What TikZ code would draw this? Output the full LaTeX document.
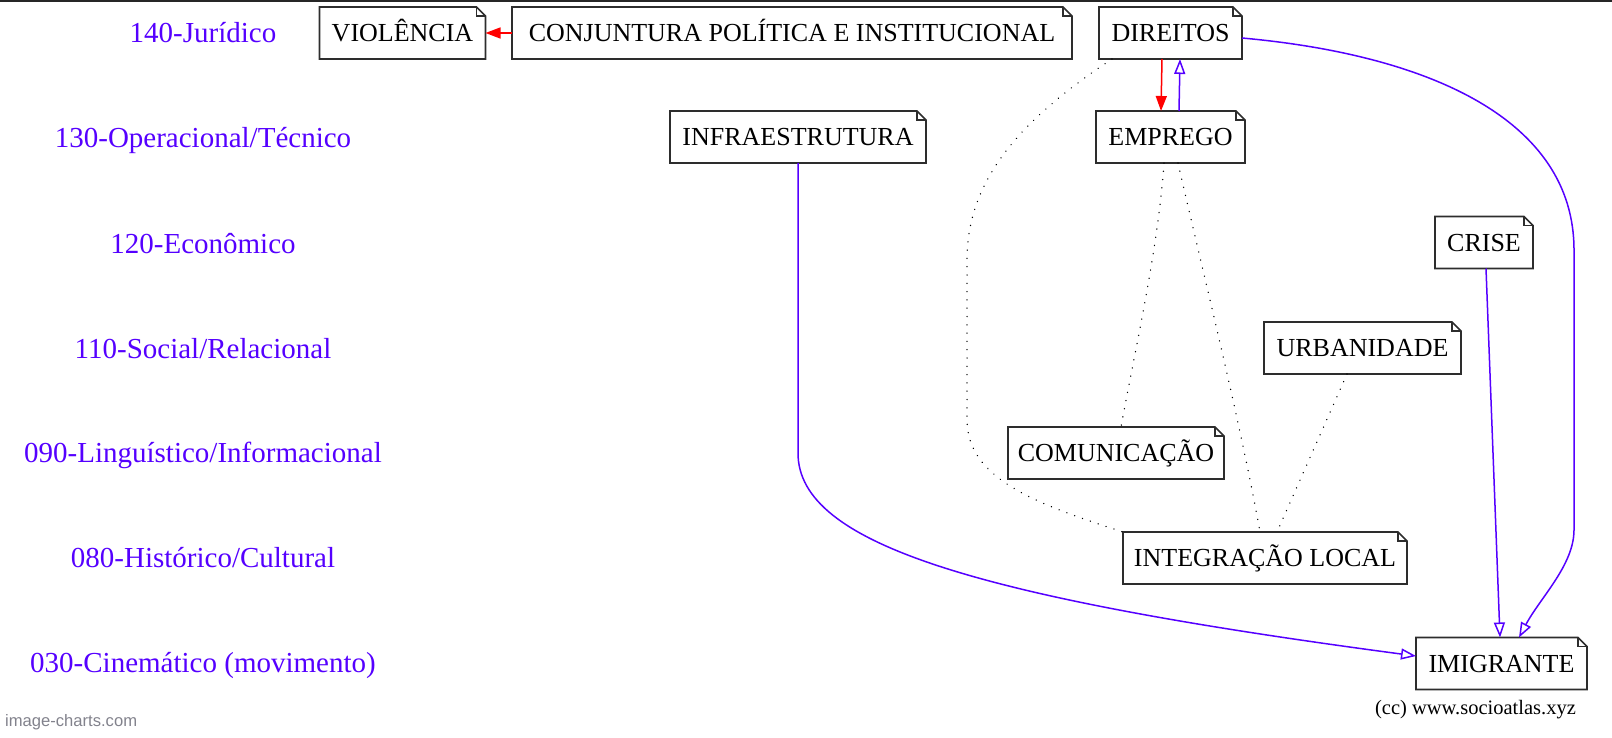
\documentclass[tikz,border=0pt]{standalone}
\usepackage{fontspec}
\setmainfont{Liberation Serif}
\newfontfamily\sansf{Liberation Sans}
\usetikzlibrary{arrows.meta}
\definecolor{purp}{RGB}{85,0,255}
\definecolor{boxgray}{RGB}{45,45,45}
\definecolor{footgray}{RGB}{130,130,140}
\begin{document}
\begin{tikzpicture}[x=1pt,y=-1pt,
 notebox/.style={draw=none, outer sep=0pt, inner sep=0pt, minimum height=52pt,
   font=\fontsize{26}{30}\selectfont, text height=17.2pt, text depth=0pt},
 boxline/.style={draw=boxgray, line width=1.6pt, line join=miter},
 lab/.style={text=purp, font=\fontsize{29}{34}\selectfont, text height=19.4pt, text depth=0pt, inner sep=0pt},
 blueedge/.style={draw=purp, line width=1.5pt, -{Triangle[open,length=15pt,width=11pt]}},
 rededge/.style={draw=red, fill=red, line width=1.5pt, -{Triangle[length=15pt,width=11pt]}},
 dotedge/.style={draw=black, line width=1.4pt, line cap=round, dash pattern=on 0.1pt off 8.2pt}
]
\useasboundingbox (0,0) rectangle (1612,738);
\draw[line width=2pt, draw=black!85] (0,1) -- (1612,1);

% left level labels
\node[lab] (l140) at (203,33) {140-Jurídico};
\node[lab] (l130) at (203,138) {130-Operacional/Técnico};
\node[lab] (l120) at (203,243.5) {120-Econômico};
\node[lab] (l110) at (203,348.5) {110-Social/Relacional};
\node[lab] (l090) at (203,452.5) {090-Linguístico/Informacional};
\node[lab] (l080) at (203,558) {080-Histórico/Cultural};
\node[lab] (l030) at (203,663) {030-Cinemático (movimento)};

% note nodes
\node[notebox, minimum width=166pt] (viol) at (402.5,33) {VIOLÊNCIA};
\node[notebox, minimum width=560pt] (conj) at (792,33) {CONJUNTURA POLÍTICA E INSTITUCIONAL};
\node[notebox, minimum width=143pt] (dir) at (1170.5,33) {DIREITOS};
\node[notebox, minimum width=256pt] (infra) at (798,137) {INFRAESTRUTURA};
\node[notebox, minimum width=149pt] (emp) at (1170.5,137) {EMPREGO};
\node[notebox, minimum width=98pt] (crise) at (1484,242.5) {CRISE};
\node[notebox, minimum width=197pt] (urb) at (1362.5,348) {URBANIDADE};
\node[notebox, minimum width=216pt] (com) at (1116,453) {COMUNICAÇÃO};
\node[notebox, minimum width=284pt] (integ) at (1265,558) {INTEGRAÇÃO LOCAL};
\node[notebox, minimum width=171pt] (imig) at (1501.5,663.5) {IMIGRANTE};

\foreach \n in {viol,conj,dir,infra,emp,crise,urb,com,integ,imig}{
  \draw[boxline] (\n.north west) -- ([xshift=-9pt]\n.north east) -- ([yshift=-9pt]\n.north east)
    -- (\n.south east) -- (\n.south west) -- cycle;
  \draw[boxline] ([xshift=-9pt]\n.north east) |- ([yshift=-9pt]\n.north east);
}

% red edges
\draw[rededge] (conj.west) -- (viol.east);
\draw[rededge] ([xshift=-8.5pt]dir.south) -- ([xshift=-9.5pt]emp.north);

% blue edges
\draw[blueedge] ([xshift=8.5pt]emp.north) -- ([xshift=9.5pt]dir.south);
\draw[blueedge] (infra.south) -- (798,453) .. controls (798,545) and (980,598) .. ([yshift=7.5pt]imig.west);
\draw[blueedge] ([yshift=-5pt]dir.east) .. controls (1430,55) and (1574,120) .. (1574,250)
   -- (1574,530) .. controls (1574,565) and (1540,598) .. ([xshift=17.5pt]imig.north);
\draw[blueedge] ([xshift=2pt]crise.south) -- ([xshift=-1.5pt]imig.north);

% dotted edges
\draw[dotedge] ([xshift=13pt]dir.south west) .. controls (1020,120) and (967,180) .. (967,260)
   -- (967,420) .. controls (967,480) and (1040,505) .. (integ.north west);
\draw[dotedge] ([xshift=-6.5pt]emp.south) .. controls (1158,250) and (1135,350) .. ([xshift=5pt]com.north);
\draw[dotedge] ([xshift=7.5pt]emp.south) .. controls (1200,260) and (1240,420) .. ([xshift=-5pt]integ.north);
\draw[dotedge] ([xshift=-15.5pt]urb.south) -- ([xshift=12pt]integ.north);

% footers
\node[font=\fontsize{20.5}{24}\selectfont, anchor=base, inner sep=0pt] (cc) at (1475.5,714) {(cc) www.socioatlas.xyz};
\node[font=\sansf\fontsize{16.6}{19}\selectfont, text=footgray, anchor=base west, inner sep=0pt] (ic) at (5,726) {image-charts.com};
\end{tikzpicture}
\end{document}
